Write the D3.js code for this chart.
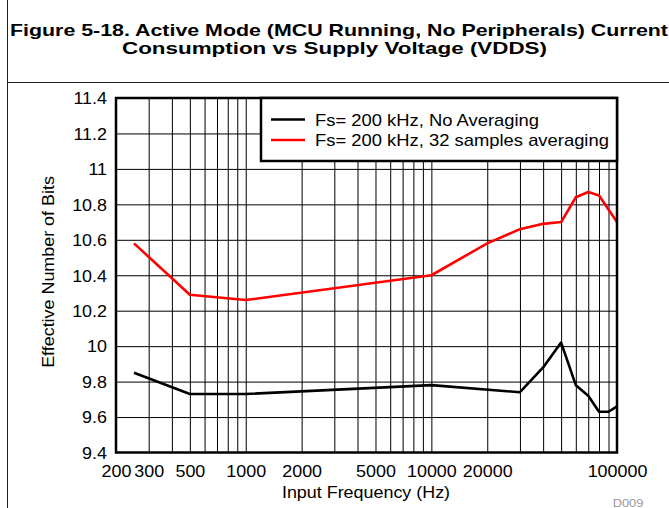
<!DOCTYPE html>
<html>
<head>
<meta charset="utf-8">
<script src="https://cdn.jsdelivr.net/npm/d3@7"></script>
<style>
    body { margin: 0; background: #fff; }
    svg { display: block; font-family: "Liberation Sans", Arial, sans-serif; }
</style>
</head>
<body>
<div id="chart"></div>
<script>
// data
const freqNoAvg = [250, 500, 1000, 10000, 30000, 40000, 50000, 60000, 70000, 80000, 90000, 100000]
const enobNoAvg = [9.85, 9.73, 9.73, 9.78, 9.74, 9.88, 10.02, 9.78, 9.72, 9.63, 9.63, 9.66]

const freqAvg32 = [250, 500, 1000, 10000, 20000, 30000, 40000, 50000, 60000, 70000, 80000, 100000]
const enobAvg32 = [10.58, 10.29, 10.26, 10.4, 10.58, 10.66, 10.69, 10.7, 10.84, 10.87, 10.85, 10.7]

const seriesNames = ["Fs= 200 kHz, No Averaging", "Fs= 200 kHz, 32 samples averaging"]
const seriesColors = ["#000000", "#ff0000"]

const xTickLabels = [200, 300, 500, 1000, 2000, 5000, 10000, 20000, 100000]
const yTicks = [9.4, 9.6, 9.8, 10, 10.2, 10.4, 10.6, 10.8, 11, 11.2, 11.4]

const titleLines = ["Figure 5-18. Active Mode (MCU Running, No Peripherals) Current",
    "Consumption vs Supply Voltage (VDDS)"]

// SVG CONVENTIONS
const W = 669, H = 508
const plot = { left: 116, right: 617, top: 98, bottom: 452.5 }
const stretch = 1.12   // the source text is a bit wider than Arial
const fs = 16

const svg = d3.select("#chart").append("svg")
    .attr("width", W)
    .attr("height", H)

// outer frame of the figure: left rule and rule under the title
svg.append("line")
    .attr("x1", 7.5).attr("x2", 7.5)
    .attr("y1", 0).attr("y2", H)
    .attr("stroke", "#222").attr("stroke-width", 1)
svg.append("line")
    .attr("x1", 7).attr("x2", W)
    .attr("y1", 82.5).attr("y2", 82.5)
    .attr("stroke", "#222").attr("stroke-width", 1)

// title (two tight lines, as in the source)
svg.append("text")
    .attr("x", 10).attr("y", 35.5)
    .attr("font-weight", "bold").attr("font-size", 16.3)
    .attr("textLength", 658).attr("lengthAdjust", "spacingAndGlyphs")
    .text(titleLines[0])
svg.append("text")
    .attr("x", 122).attr("y", 53.5)
    .attr("font-weight", "bold").attr("font-size", 16.3)
    .attr("textLength", 425).attr("lengthAdjust", "spacingAndGlyphs")
    .text(titleLines[1])

const x = d3.scaleLog()
    .domain([200, 100000])
    .range([plot.left, plot.right])

const y = d3.scaleLinear()
    .domain([9.4, 11.4])
    .range([plot.bottom, plot.top])

// grid lines on every 1..9 multiple of each decade
var minorTicks = []
for (var dec = 100; dec <= 100000; dec *= 10) {
    for (var m = 1; m <= 9; m++) {
        var v = dec * m
        if (v > 200 && v < 100000) minorTicks.push(v)
    }
}

svg.append("g")
    .attr("transform", "translate(0," + plot.bottom + ")")
    .call(d3.axisBottom(x).tickValues(minorTicks).tickFormat("")
        .tickSizeInner(-(plot.bottom - plot.top)).tickSizeOuter(0))
    .call(g => g.select(".domain").remove())
    .selectAll("line")
    .attr("stroke", "#000").attr("stroke-width", 1)

svg.append("g")
    .attr("transform", "translate(" + plot.left + ",0)")
    .call(d3.axisLeft(y).tickValues(yTicks.slice(1, -1)).tickFormat("")
        .tickSizeInner(-(plot.right - plot.left)).tickSizeOuter(0))
    .call(g => g.select(".domain").remove())
    .selectAll("line")
    .attr("stroke", "#000").attr("stroke-width", 1)

// tick labels
const xAxis = svg.append("g")
    .attr("transform", "translate(0," + plot.bottom + ")")
    .call(d3.axisBottom(x).tickValues(xTickLabels).tickFormat(d3.format("d")).tickSize(0))
xAxis.select(".domain").remove()
xAxis.selectAll("text")
    .attr("y", 25).attr("dy", null)
    .attr("transform", "scale(" + stretch + ",1)")
    .attr("font-family", "Liberation Sans, Arial, sans-serif")
    .attr("font-size", fs).attr("fill", "#000")

const yAxis = svg.append("g")
    .attr("transform", "translate(" + plot.left + ",0)")
    .call(d3.axisLeft(y).tickValues(yTicks).tickFormat(d3.format("~f")).tickSize(0))
yAxis.select(".domain").remove()
yAxis.selectAll("text")
    .attr("x", -9 / stretch).attr("dy", "0.36em")
    .attr("transform", "scale(" + stretch + ",1)")
    .attr("font-family", "Liberation Sans, Arial, sans-serif")
    .attr("font-size", fs).attr("fill", "#000")

// the curves
const line = d3.line()
    .x(d => x(d[0]))
    .y(d => y(d[1]))

const series = [d3.zip(freqNoAvg, enobNoAvg), d3.zip(freqAvg32, enobAvg32)]

svg.selectAll(".curve")
    .data(series)
    .enter()
    .append("path")
    .attr("class", "curve")
    .attr("d", line)
    .attr("fill", "none")
    .attr("stroke", (d, i) => seriesColors[i])
    .attr("stroke-width", 2.6)
    .attr("stroke-linejoin", "round")

// plot border
svg.append("rect")
    .attr("x", plot.left).attr("y", plot.top)
    .attr("width", plot.right - plot.left)
    .attr("height", plot.bottom - plot.top)
    .attr("fill", "none")
    .attr("stroke", "#000").attr("stroke-width", 2.5)

// legend
const legend = svg.append("g")
legend.append("rect")
    .attr("x", 261).attr("y", plot.top)
    .attr("width", plot.right - 261).attr("height", 63)
    .attr("fill", "#fff")
    .attr("stroke", "#000").attr("stroke-width", 2.5)

seriesNames.forEach(function (name, i) {
    var ly = 119.5 + i * 20.5
    legend.append("line")
        .attr("x1", 271).attr("x2", 305)
        .attr("y1", ly).attr("y2", ly)
        .attr("stroke", seriesColors[i]).attr("stroke-width", 2.6)
    legend.append("text")
        .attr("transform", "translate(315," + (ly + 6) + ") scale(" + (stretch + 0.03) + ",1)")
        .attr("font-size", fs)
        .text(name)
})

// axis titles
svg.append("text")
    .attr("transform", "translate(366,498) scale(" + stretch + ",1)")
    .attr("text-anchor", "middle")
    .attr("font-size", fs)
    .text("Input Frequency (Hz)")

svg.append("text")
    .attr("transform", "translate(54,272) rotate(-90) scale(" + stretch + ",1)")
    .attr("text-anchor", "middle")
    .attr("font-size", fs)
    .text("Effective Number of Bits")

svg.append("text")
    .attr("transform", "translate(628,506.5) scale(" + stretch + ",1)")
    .attr("text-anchor", "middle")
    .attr("font-size", 11.5)
    .attr("fill", "#999")
    .text("D009")
</script>
</body>
</html>
